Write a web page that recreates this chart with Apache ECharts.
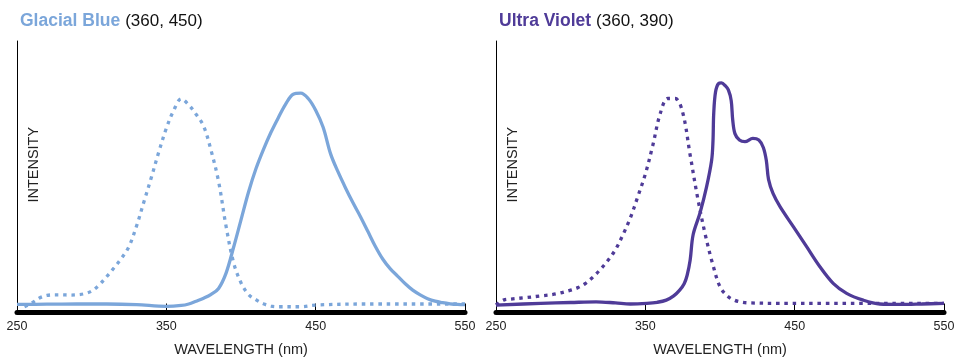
<!DOCTYPE html>
<html>
  <head>
    <meta charset="utf-8" />
    <title></title>
    <style type="text/css">
      html,
      body {
        margin: 0;
        width: 100%;
        height: 100%;
        background: #fff;
      }
      #main {
        width: 955px;
        height: 358px;
      }
    </style>
  </head>
  <body>
    <div id="main"></div>

    <script src="https://cdn.jsdelivr.net/npm/echarts@6/dist/echarts.min.js"></script>
    <script type="text/javascript">
      // wavelength ticks (nm)
      var wlTicks = [250, 350, 450, 550];

      // Glacial Blue: [wavelength, intensity]
      var glacialExcitation = [
        [255, -0.8], [260, 1], [265, 3.3], [270, 4.5], [275, 4.8], [280, 4.8],
        [285, 4.7], [290, 4.8], [295, 5.3], [300, 6.6], [305, 9.4], [310, 13.3],
        [315, 17.5], [320, 22], [325, 27.5], [330, 37], [335, 48.5], [340, 60],
        [345, 72], [350, 83], [355, 91.5], [360, 96.8], [365, 94], [370, 89.5],
        [375, 84], [380, 72.5], [385, 58], [390, 37], [395, 20], [400, 10.5],
        [405, 5], [410, 2.5], [415, 0.6], [420, -0.5], [425, -0.8], [440, -0.8],
        [450, 0], [485, 0.5], [550, 0.5]
      ];
      var glacialEmission = [
        [250, 0.3], [270, 0.4], [290, 0.5], [310, 0.5], [330, 0.2], [350, -0.6],
        [360, -0.2], [365, 0.5], [370, 1.8], [375, 3.2], [380, 5], [385, 7.8],
        [390, 15], [395, 27], [400, 40], [405, 53], [410, 64], [415, 73],
        [420, 81], [425, 88], [430, 94.5], [435, 99], [440, 99.5], [445, 97],
        [450, 91.5], [455, 83.5], [460, 71], [465, 62.5], [470, 55], [475, 48],
        [480, 41.5], [485, 34.5], [490, 27.5], [495, 21.5], [500, 17], [505, 13.5],
        [510, 10], [515, 7], [520, 4.8], [525, 3], [530, 1.8], [535, 1.1],
        [540, 0.6], [545, 0.3], [550, 0.2]
      ];

      // Ultra Violet: [wavelength, intensity]
      var violetExcitation = [
        [250, 0], [255, 2.3], [260, 2.8], [270, 3.5], [280, 4.3], [290, 5.2],
        [300, 7], [305, 8.2], [310, 10.2], [315, 13.2], [320, 16.8], [325, 21],
        [330, 26], [335, 33], [340, 41], [345, 51], [350, 61.5], [355, 75],
        [360, 90], [365, 97], [370, 97], [375, 90.5], [380, 70.5], [385, 50.5],
        [390, 33.5], [395, 19.5], [400, 8.6], [405, 4.2], [410, 2.2], [415, 1.3],
        [420, 1], [440, 0.8], [550, 0.8]
      ];
      var violetEmission = [
        [250, 0], [280, 0.8], [300, 1.2], [317, 1.5], [330, 1], [340, 0.5],
        [351, 0.8], [358, 1.3], [364, 2.3], [369, 4.3], [373, 7], [376, 10],
        [378, 14], [380, 21], [382, 33], [386.6, 43.2], [391, 55.5],
        [394.4, 68], [395.3, 77], [395.8, 90], [397, 100], [399, 104],
        [401, 104.3], [403.5, 103], [405.6, 101], [407.5, 96], [408.5, 87],
        [410, 80.5], [413, 77.5], [416.7, 76.7], [422, 78.3], [426, 77.5],
        [429, 74], [431, 68], [432.5, 59], [435.5, 52.4], [440.2, 46.2],
        [449.1, 36.8], [458, 27.4], [466.9, 18], [475.8, 10.2], [484.8, 5.5],
        [495.9, 2.3], [507, 0.5], [520, 0.3], [535, 0.5], [550, 0.8]
      ];

      var panels = [
        { name: "Glacial Blue", peaks: "(360, 450)", color: "#7BA6DA", ex: glacialExcitation, em: glacialEmission },
        { name: "Ultra Violet", peaks: "(360, 390)", color: "#4F3B98", ex: violetExcitation, em: violetEmission }
      ];

      var font = "'Liberation Sans', Arial, sans-serif";
      var grids = [
        { left: 17, width: 448, top: 41, bottom: 45.5, outerBoundsMode: "none", containLabel: false },
        { left: 496, width: 448, top: 41, bottom: 45.5, outerBoundsMode: "none", containLabel: false }
      ];
      var titleLeft = [15, 494];

      var myChart = echarts.init(document.getElementById("main"), null, { renderer: "canvas" });

      var option = {
        animation: false,
        backgroundColor: "#fff",
        title: [],
        grid: grids,
        xAxis: [],
        yAxis: [],
        series: []
      };

      panels.forEach(function (p, i) {
        option.title.push({
          left: titleLeft[i],
          top: 7,
          text: "{n|" + p.name + "} {p|" + p.peaks + "}",
          textStyle: {
            fontWeight: "normal",
            rich: {
              n: { fontFamily: font, fontWeight: "bold", fontSize: 17.5, color: p.color },
              p: { fontFamily: font, fontWeight: "normal", fontSize: 17, color: "#111" }
            }
          }
        });
        option.xAxis.push({
          gridIndex: i,
          type: "value",
          min: wlTicks[0],
          max: wlTicks[wlTicks.length - 1],
          interval: 100,
          name: "WAVELENGTH (nm)",
          nameLocation: "middle",
          nameGap: 30,
          nameTextStyle: { fontFamily: font, fontSize: 14.5, color: "#222" },
          axisLine: { onZero: false, lineStyle: { color: "#000", width: 5 } },
          axisTick: { inside: true, length: 9, lineStyle: { color: "#000", width: 1 } },
          axisLabel: { margin: 8, fontFamily: font, fontSize: 12.5, color: "#222" },
          splitLine: { show: false }
        });
        option.yAxis.push({
          gridIndex: i,
          type: "value",
          min: -3.5,
          max: 124,
          name: "INTENSITY",
          nameLocation: "middle",
          nameRotate: 90,
          nameGap: -24,
          nameTextStyle: { fontFamily: font, fontSize: 14.5, color: "#222", padding: [0, 0, 0, 24] },
          axisLine: { show: true, lineStyle: { color: "#000", width: 1 } },
          axisTick: { show: false },
          axisLabel: { show: false },
          splitLine: { show: false }
        });
        option.series.push({
          type: "line",
          xAxisIndex: i,
          yAxisIndex: i,
          data: p.ex,
          showSymbol: false,
          smooth: 0.35,
          lineStyle: { color: p.color, width: 3.3, type: [3.5, 4.8], cap: "butt" },
          z: 2
        });
        option.series.push({
          type: "line",
          xAxisIndex: i,
          yAxisIndex: i,
          data: p.em,
          showSymbol: false,
          smooth: 0.35,
          lineStyle: { color: p.color, width: 3.3 },
          z: 3
        });
      });

      myChart.setOption(option);
    </script>
  </body>
</html>
